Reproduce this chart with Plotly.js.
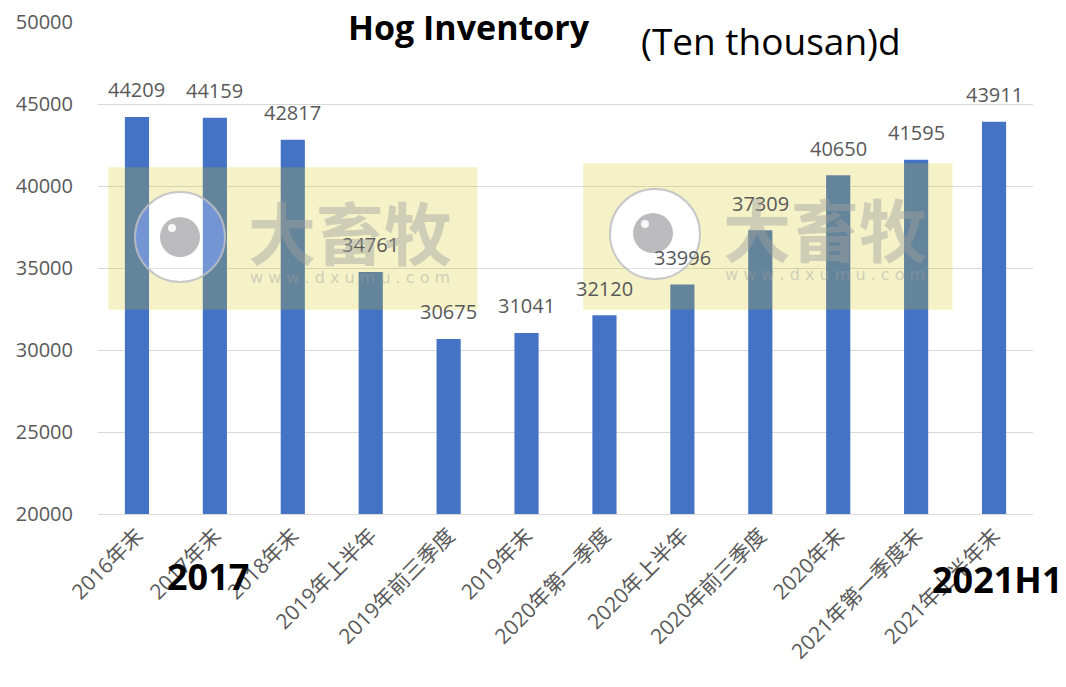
<!DOCTYPE html>
<html>
<head>
<meta charset="utf-8">
<script src="https://cdn.plot.ly/plotly-3.0.1.min.js"></script>
<style>html,body{margin:0;padding:0;background:#fff;}#chart{width:1066px;height:687px;}</style>
</head>
<body>
<div id="chart"></div>
<script>
var categories = ["2016年末","2017年末","2018年末","2019年上半年","2019年前三季度","2019年末","2020年第一季度","2020年上半年","2020年前三季度","2020年末","2021年第一季度末","2021年上半年末"];
var inventory = [44209, 44159, 42817, 34761, 30675, 31041, 32120, 33996, 37309, 40650, 41595, 43911];
var yTicks = [20000, 25000, 30000, 35000, 40000, 45000, 50000];

var FONT = "Open Sans, Noto Sans CJK SC, sans-serif";
var GRAY = "#595959";

var trace = {
  type: "bar",
  x: categories,
  y: inventory,
  marker: {color: "#4472C4"},
  hoverinfo: "x+y"
};

// value labels, placed through the axes at each bar's top
var valueLabels = categories.map(function (c, i) {
  return {x: c, y: inventory[i], xref: "x", yref: "y", text: String(inventory[i]),
    showarrow: false, xanchor: "center", yanchor: "middle", yshift: 27,
    font: {family: FONT, size: 20, color: GRAY}};
});

// ---- watermark decoration (paper coordinates) ----
var K = 0.5523;
function circlePathCW(cx, cy, rx, ry) {
  return "M" + cx + "," + (cy + ry) +
    " C" + (cx + K * rx) + "," + (cy + ry) + " " + (cx + rx) + "," + (cy + K * ry) + " " + (cx + rx) + "," + cy +
    " C" + (cx + rx) + "," + (cy - K * ry) + " " + (cx + K * rx) + "," + (cy - ry) + " " + cx + "," + (cy - ry) +
    " C" + (cx - K * rx) + "," + (cy - ry) + " " + (cx - rx) + "," + (cy - K * ry) + " " + (cx - rx) + "," + cy +
    " C" + (cx - rx) + "," + (cy + K * ry) + " " + (cx - K * rx) + "," + (cy + ry) + " " + cx + "," + (cy + ry) + " Z";
}
function rectWithHole(x0, x1, y0, y1, cx, cy, rx, ry) {
  return "M" + x0 + "," + y0 + " L" + x1 + "," + y0 + " L" + x1 + "," + y1 + " L" + x0 + "," + y1 + " Z " +
    circlePathCW(cx, cy, rx, ry);
}
var RX = 45 / 935, RY = 45 / 492;
var wm = [
  {x0: 0.011, x1: 0.406, y0: 0.415, y1: 0.705, cx: 0.0877, cy: 0.563, bx: 0.0877, by: 0.563, tx: 0.269},
  {x0: 0.519, x1: 0.914, y0: 0.415, y1: 0.713, cx: 0.5957, cy: 0.569, bx: 0.5936, by: 0.571, tx: 0.778}
];
var wmFill = "rgba(210,196,5,0.22)";
var shapes = [];
var decoAnn = [];
wm.forEach(function (w) {
  shapes.push({type: "path", xref: "paper", yref: "paper", path: rectWithHole(w.x0, w.x1, w.y0, w.y1, w.cx, w.cy, RX, RY),
    fillcolor: wmFill, line: {width: 0}, layer: "above"});
  shapes.push({type: "circle", xref: "paper", yref: "paper", x0: w.cx - RX, x1: w.cx + RX, y0: w.cy - RY, y1: w.cy + RY,
    fillcolor: "rgba(255,255,255,0.25)", line: {color: "rgba(190,190,195,0.85)", width: 2}, layer: "above"});
  var brx = 20 / 935, bry = 20 / 492;
  shapes.push({type: "circle", xref: "paper", yref: "paper", x0: w.bx - brx, x1: w.bx + brx, y0: w.by - bry, y1: w.by + bry,
    fillcolor: "rgba(180,180,183,0.9)", line: {width: 0}, layer: "above"});
  var hx = w.bx - 8 / 935, hy = w.by + 9 / 492, hrx = 4 / 935, hry = 4 / 492;
  shapes.push({type: "circle", xref: "paper", yref: "paper", x0: hx - hrx, x1: hx + hrx, y0: hy - hry, y1: hy + hry,
    fillcolor: "rgba(250,250,250,0.95)", line: {width: 0}, layer: "above"});
  decoAnn.push({xref: "paper", yref: "paper", x: w.tx, y: w.cy + 0.013, text: "<b>大畜牧</b>", showarrow: false,
    xanchor: "center", yanchor: "middle", font: {family: "Noto Sans CJK SC", size: 68, color: "rgba(160,160,160,0.45)"}});
  decoAnn.push({xref: "paper", yref: "paper", x: w.tx, y: w.cy - 0.082, text: "w w w . d x u m u . c o m", showarrow: false,
    xanchor: "center", yanchor: "middle", font: {family: "DejaVu Sans", size: 16, color: "rgba(160,160,160,0.45)"}});
});

var textAnn = [
  {xref: "paper", yref: "paper", x: 0.397, y: 0.990, text: "<b>Hog Inventory</b>", showarrow: false, xanchor: "center", yanchor: "middle", font: {family: FONT, size: 34, color: "#000"}},
  {xref: "paper", yref: "paper", x: 0.720, y: 0.963, text: "(Ten thousan)d", showarrow: false, xanchor: "center", yanchor: "middle", font: {family: FONT, size: 37, color: "#000"}},
  {xref: "paper", yref: "paper", x: 0.118, y: -0.128, text: "<b>2017</b>", showarrow: false, xanchor: "center", yanchor: "middle", font: {family: FONT, size: 36, color: "#000"}},
  {xref: "paper", yref: "paper", x: 0.961, y: -0.134, text: "<b>2021H1</b>", showarrow: false, xanchor: "center", yanchor: "middle", font: {family: FONT, size: 36, color: "#000"}}
];

var layout = {
  width: 1066, height: 687,
  margin: {l: 98, r: 33, t: 22, b: 173},
  paper_bgcolor: "#fff", plot_bgcolor: "#fff",
  showlegend: false,
  bargap: 0.69,
  font: {family: FONT, color: GRAY},
  xaxis: {
    type: "category",
    tickangle: -45,
    tickfont: {family: FONT, size: 21, color: GRAY},
    showgrid: false,
    showline: true, linecolor: "#D9D9D9", linewidth: 1,
    ticks: ""
  },
  yaxis: {
    range: [20000, 50000],
    tickvals: yTicks,
    ticktext: yTicks.map(String),
    tickfont: {family: FONT, size: 20, color: GRAY},
    showgrid: true, gridcolor: "#D9D9D9", gridwidth: 1,
    zeroline: false, showline: false,
    ticks: "",
    ticklabelstandoff: 24
  },
  shapes: shapes,
  annotations: valueLabels.concat(decoAnn, textAnn)
};

Plotly.newPlot("chart", [trace], layout, {displayModeBar: false, staticPlot: true});
</script>
</body>
</html>
